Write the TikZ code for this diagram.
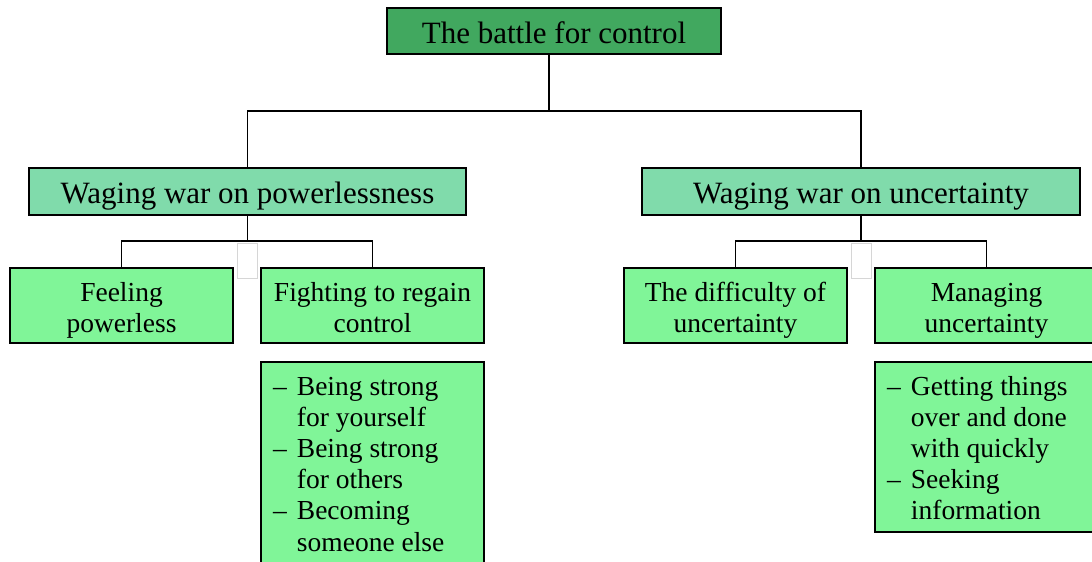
\documentclass[tikz,border=0pt]{standalone}
\usepackage{fontspec}
\setmainfont{Liberation Serif}
\usetikzlibrary{calc}
\definecolor{topgreen}{RGB}{65,168,95}
\definecolor{midgreen}{RGB}{128,219,171}
\definecolor{lowgreen}{RGB}{128,245,152}
\definecolor{ghost}{RGB}{214,214,214}

\begin{document}
\begin{tikzpicture}[x=1pt,y=-1pt,
  box/.style={draw=black,line width=1.8pt,inner sep=0pt,outer sep=0pt},
  headbox/.style={box,fill=topgreen,minimum width=334pt,minimum height=46pt,
    font=\fontsize{31}{36}\selectfont,text height=25pt,text depth=0pt},
  themebox/.style={box,fill=midgreen,minimum width=437pt,minimum height=47pt,
    font=\fontsize{31}{36}\selectfont,text height=24pt,text depth=0pt},
  subbox/.style={box,fill=lowgreen,minimum width=223pt,minimum height=75pt,
    font=\fontsize{27.5}{31.5}\selectfont,text height=24pt,text depth=33pt},
  listbox/.style={box,fill=lowgreen,minimum width=223pt,anchor=north west},
  listtext/.style={anchor=base west,inner sep=0pt,font=\fontsize{27.5}{31.2}\selectfont},
  ghostbox/.style={draw=ghost,line width=0.8pt,minimum width=20pt,minimum height=35pt,inner sep=0pt},
  link/.style={line width=1.8pt}
]
\useasboundingbox (0,0) rectangle (1092,562);
\clip (0,0) rectangle (1092,562);
\fill[white] (0,0) rectangle (1092,562);

% faint outlines under the branch junctions
\node[ghostbox] (gapL) at (247,260.5) {};
\node[ghostbox] (gapR) at (861,260.5) {};

% hierarchy
\node[headbox]  (top)  at (554,31)    {The battle for control};
\node[themebox] (midL) at (247.5,191.5) {Waging war on powerlessness};
\node[themebox,minimum width=438pt] (midR) at (861,191.5) {Waging war on uncertainty};

\node[subbox] (feel)  at (121.5,305.5) {\begin{tabular}[t]{@{}c@{}}Feeling\\powerless\end{tabular}};
\node[subbox] (fight) at (372.5,305.5) {\begin{tabular}[t]{@{}c@{}}Fighting to regain\\control\end{tabular}};
\node[subbox] (diff)  at (735.5,305.5) {\begin{tabular}[t]{@{}c@{}}The difficulty of\\uncertainty\end{tabular}};
\node[subbox] (manage) at (986.5,305.5) {\begin{tabular}[t]{@{}c@{}}Managing\\uncertainty\end{tabular}};

% detail lists
\node[listbox,minimum height=230pt] (listL) at (261,362) {};
\node[listtext] (listLtext) at ($(listL.north west)+(12,33)$)
  {\begin{tabular}[t]{@{}l@{\hspace{10pt}}l@{}}
   –&Being strong\\&for yourself\\
   –&Being strong\\&for others\\
   –&Becoming\\&someone else
   \end{tabular}};
\node[listbox,minimum height=170pt] (listR) at (875,362) {};
\node[listtext] (listRtext) at ($(listR.north west)+(12,33)$)
  {\begin{tabular}[t]{@{}l@{\hspace{10pt}}l@{}}
   –&Getting things\\&over and done\\&with quickly\\
   –&Seeking\\&information
   \end{tabular}};

% connectors
\draw[link] ($(top.south)+(-5,0)$) -- ++(0,57) coordinate (j0) -| (midL.north);
\draw[link] (j0) -| (midR.north);
\draw[link] (midL.south) -- ++(0,26) coordinate (j1) -| (feel.north);
\draw[link] (j1) -| (fight.north);
\draw[link] (midR.south) -- ++(0,26) coordinate (j2) -| (diff.north);
\draw[link] (j2) -| (manage.north);
\end{tikzpicture}
\end{document}
